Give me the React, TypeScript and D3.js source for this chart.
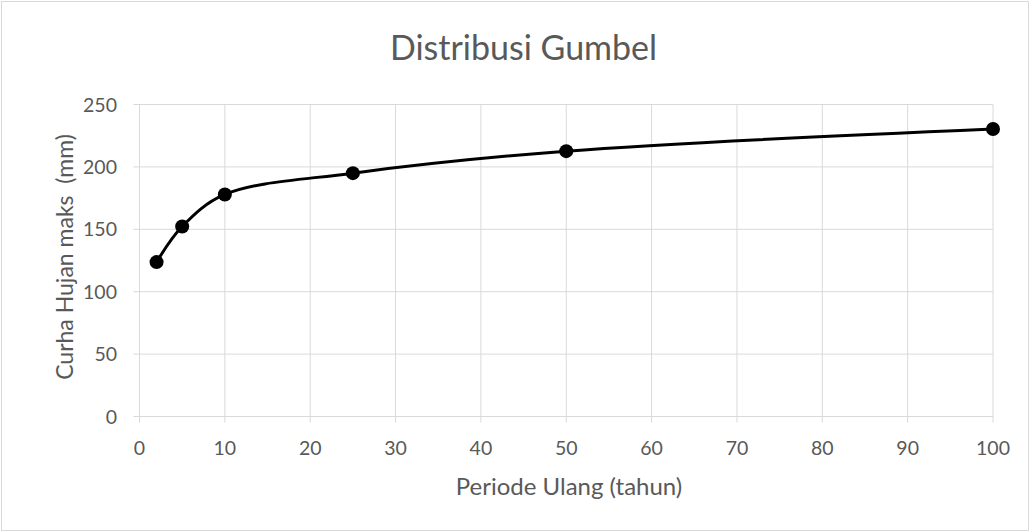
import React, { useEffect, useRef } from "react";
import * as d3 from "d3";

const periods = [2, 5, 10, 25, 50, 100];
const rainfall = [123.7, 152.2, 177.9, 195.0, 212.6, 230.4];
const xTicks = [0, 10, 20, 30, 40, 50, 60, 70, 80, 90, 100];
const yTicks = [0, 50, 100, 150, 200, 250];

const App = () => {
  const ref = useRef<SVGSVGElement>(null);

  useEffect(() => {
    const svg = d3.select(ref.current);
    svg.selectAll("*").remove();

    const width = 1030;
    const height = 532;
    const font = "Lato, 'Open Sans', sans-serif";
    const textColor = "#595959";

    // chart border
    svg.append("rect")
      .attr("x", 1.5).attr("y", 1.5)
      .attr("width", width - 3).attr("height", height - 3)
      .attr("fill", "#fff").attr("stroke", "#d9d9d9");

    const x = d3.scaleLinear().domain([0, 100]).range([139.5, 993]);
    const y = d3.scaleLinear().domain([0, 250]).range([416.5, 104.5]);

    // grid
    svg.append("g").selectAll("line").data(xTicks).join("line")
      .attr("x1", d => x(d)).attr("x2", d => x(d))
      .attr("y1", y(250)).attr("y2", y(0) + 6)
      .attr("stroke", "#d9d9d9").attr("stroke-width", 1);
    svg.append("g").selectAll("line").data(yTicks).join("line")
      .attr("x1", x(0) - 6).attr("x2", x(100))
      .attr("y1", d => y(d)).attr("y2", d => y(d))
      .attr("stroke", "#d9d9d9").attr("stroke-width", 1);

    // tick labels
    svg.append("g").selectAll("text").data(xTicks).join("text")
      .attr("x", d => x(d)).attr("y", 455)
      .attr("text-anchor", "middle")
      .attr("font-family", font).attr("font-size", 19.5).attr("fill", textColor)
      .text(d => d);
    svg.append("g").selectAll("text").data(yTicks).join("text")
      .attr("x", 117).attr("y", d => y(d) + 7)
      .attr("text-anchor", "end")
      .attr("font-family", font).attr("font-size", 19.5).attr("fill", textColor)
      .text(d => d);

    // titles
    svg.append("text")
      .attr("x", 523.5).attr("y", 60)
      .attr("text-anchor", "middle")
      .attr("font-family", font).attr("font-size", 34).attr("fill", textColor)
      .text("Distribusi Gumbel");
    svg.append("text")
      .attr("x", 569).attr("y", 495)
      .attr("text-anchor", "middle")
      .attr("font-family", font).attr("font-size", 24).attr("fill", textColor)
      .text("Periode Ulang (tahun)");
    svg.append("text")
      .attr("transform", `translate(73,257) rotate(-90)`)
      .attr("text-anchor", "middle")
      .attr("font-family", font).attr("font-size", 23).attr("fill", textColor)
      .style("white-space", "pre")
      .text("Curha Hujan maks  (mm)");

    const data = periods.map((p, i) => ({ p, v: rainfall[i] }));

    const line = d3.line<{ p: number; v: number }>()
      .x(d => x(d.p))
      .y(d => y(d.v))
      .curve(d3.curveCatmullRom.alpha(0.5));

    svg.append("path")
      .datum(data)
      .attr("fill", "none")
      .attr("stroke", "#000")
      .attr("stroke-width", 3)
      .attr("d", line);

    svg.append("g").selectAll("circle").data(data).join("circle")
      .attr("cx", d => x(d.p)).attr("cy", d => y(d.v))
      .attr("r", 7)
      .attr("fill", "#000");
  }, []);

  return (
    <svg
      ref={ref}
      width={1030}
      height={532}
      style={{ position: "absolute", left: 0, top: 0 }}
    />
  );
};

export default App;
